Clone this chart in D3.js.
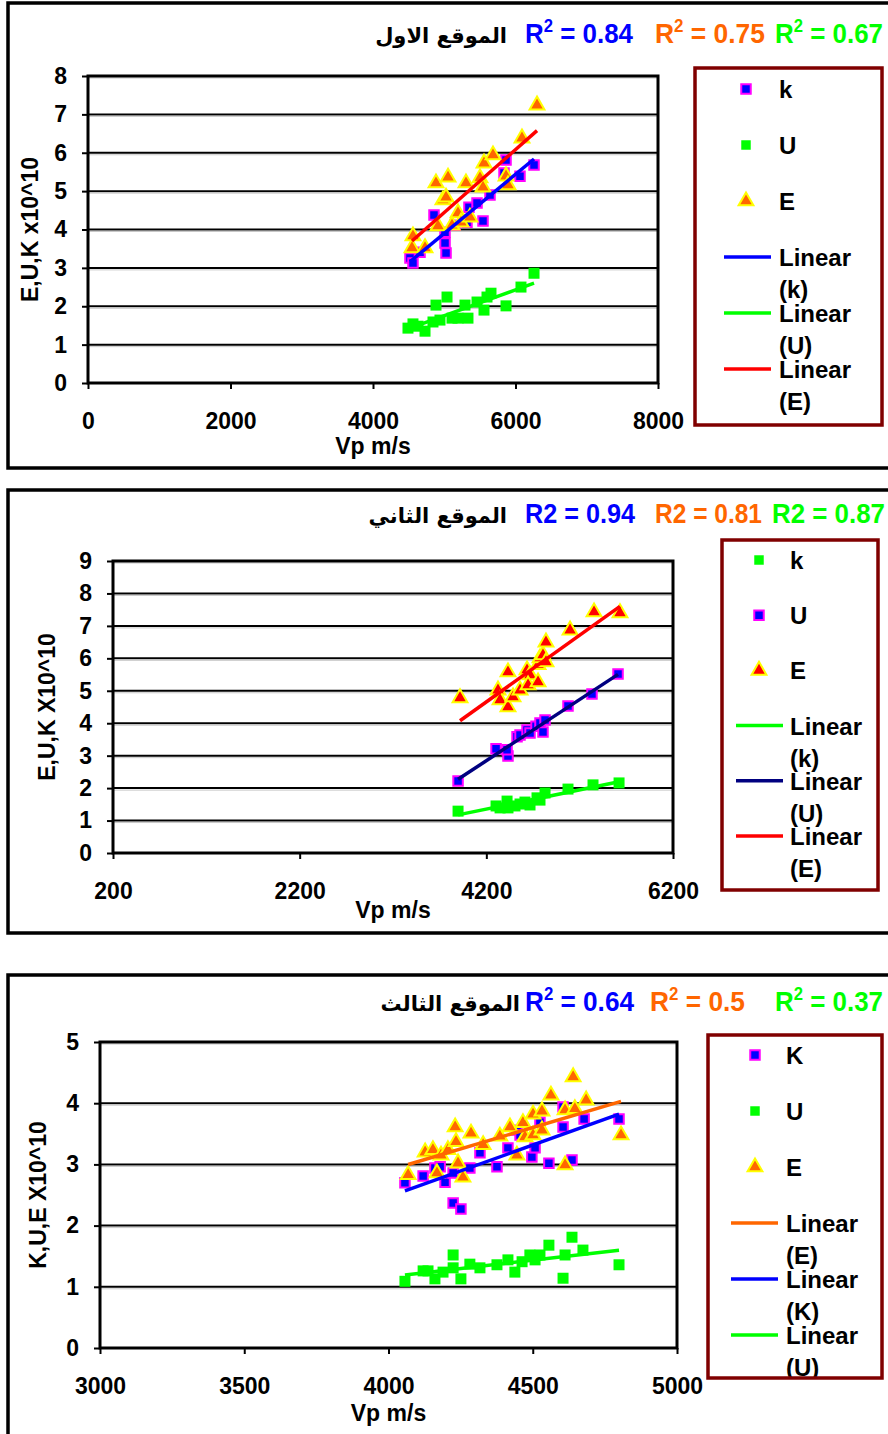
<!DOCTYPE html>
<html>
<head>
<meta charset="utf-8">
<script src="https://cdnjs.cloudflare.com/ajax/libs/d3/7.8.5/d3.min.js"></script>
<style>
  body { margin: 0; background: #fff; }
  text { font-family: "Liberation Sans", Arial, sans-serif; font-weight: bold; }
</style>
</head>
<body>
<script>

// DATI - PANNELLO 1 (الموقع الاول)
//
var s1KVp = [4519, 4561, 4660, 4856, 5011, 5011, 5025, 5151, 5319, 5347, 5460, 5544, 5642, 5839, 5867, 6063, 6260];
var s1K   = [3.26, 3.13, 3.41, 4.38, 3.93, 3.65, 3.39, 4.11, 4.19, 4.58, 4.69, 4.22, 4.90, 5.47, 5.81, 5.39, 5.68];
var s1UVp = [4491, 4561, 4632, 4730, 4842, 4884, 4940, 5039, 5109, 5193, 5291, 5333, 5460, 5558, 5600, 5656, 5867, 6077, 6260];
var s1U   = [1.43, 1.54, 1.48, 1.35, 1.59, 2.03, 1.64, 2.24, 1.69, 1.69, 2.03, 1.69, 2.11, 1.90, 2.24, 2.34, 2.01, 2.50, 2.86];
var s1EVp = [4547, 4561, 4730, 4884, 4912, 4982, 5025, 5053, 5109, 5193, 5235, 5305, 5361, 5502, 5544, 5558, 5684, 5867, 5895, 6091, 6302];
var s1E   = [3.52, 3.83, 3.52, 5.21, 4.09, 4.77, 4.84, 5.36, 4.11, 4.43, 4.19, 5.21, 4.32, 5.34, 5.10, 5.73, 5.94, 5.39, 5.16, 6.38, 7.24];
var s1XTicks = [0, 2000, 4000, 6000, 8000];
var s1YTicks = [0, 1, 2, 3, 4, 5, 6, 7, 8];
var s1R2 = ["0.84", "0.75", "0.67"];

// DATI - PANNELLO 2 (الموقع الثاني)
//
var s2KVp = [3897, 4304, 4347, 4422, 4432, 4507, 4561, 4614, 4668, 4743, 4775, 4829, 5075, 5343, 5622];
var s2K   = [1.29, 1.45, 1.39, 1.60, 1.39, 1.45, 1.51, 1.57, 1.48, 1.70, 1.63, 1.85, 1.97, 2.10, 2.16];
var s2UVp = [3897, 4304, 4432, 4422, 4529, 4561, 4636, 4668, 4732, 4775, 4807, 4829, 5075, 5332, 5611];
var s2U   = [2.22, 3.21, 2.99, 3.18, 3.58, 3.64, 3.79, 3.70, 3.91, 4.01, 3.73, 4.10, 4.53, 4.90, 5.52];
var s2EVp = [3918, 4325, 4347, 4432, 4432, 4486, 4561, 4636, 4668, 4647, 4754, 4754, 4775, 4807, 4839, 4839, 5097, 5354, 5632];
var s2E   = [4.78, 5.02, 4.72, 5.58, 4.50, 4.81, 5.02, 5.64, 5.49, 5.18, 5.27, 5.80, 6.01, 6.10, 5.89, 6.50, 6.87, 7.43, 7.40];
var s2XTicks = [200, 2200, 4200, 6200];
var s2YTicks = [0, 1, 2, 3, 4, 5, 6, 7, 8, 9];
var s2R2 = ["0.94", "0.81", "0.87"];

// DATI - PANNELLO 3 (الموقع الثالث)
//
var s3KVp = [4057, 4120, 4161, 4179, 4196, 4224, 4224, 4251, 4282, 4317, 4376, 4414, 4445, 4456, 4497, 4508, 4525, 4556, 4605, 4605, 4636, 4678, 4799];
var s3K   = [2.70, 2.81, 2.94, 2.96, 2.71, 2.86, 2.37, 2.27, 2.94, 3.19, 2.96, 3.27, 3.56, 3.48, 3.12, 3.27, 3.69, 3.02, 3.94, 3.61, 3.07, 3.74, 3.74];
var s3UVp = [4057, 4120, 4137, 4161, 4189, 4224, 4224, 4251, 4282, 4317, 4376, 4414, 4438, 4463, 4490, 4508, 4525, 4556, 4605, 4612, 4636, 4674, 4799];
var s3U   = [1.09, 1.26, 1.26, 1.13, 1.24, 1.52, 1.31, 1.13, 1.37, 1.31, 1.36, 1.44, 1.24, 1.41, 1.52, 1.44, 1.52, 1.68, 1.14, 1.52, 1.81, 1.60, 1.36];
var s3EVp = [4068, 4127, 4154, 4168, 4182, 4206, 4231, 4234, 4241, 4258, 4286, 4328, 4386, 4421, 4445, 4466, 4473, 4501, 4501, 4532, 4532, 4563, 4612, 4612, 4640, 4646, 4685, 4806];
var s3E   = [2.83, 3.20, 3.24, 2.86, 3.15, 3.24, 3.61, 3.37, 3.02, 2.79, 3.51, 3.32, 3.46, 3.61, 3.15, 3.68, 3.45, 3.82, 3.48, 3.87, 3.56, 4.13, 3.89, 2.99, 4.43, 3.91, 4.05, 3.48];
var s3XTicks = [3000, 3500, 4000, 4500, 5000];
var s3YTicks = [0, 1, 2, 3, 4, 5];
var s3R2 = ["0.64", "0.5", "0.37"];

// COLORI
//
var BLUE = "#0000ff", MAGENTA = "#ff00ff", GREEN = "#00ff00", ORANGE = "#ff6600",
    YELLOW = "#ffff00", RED = "#ff0000", NAVY = "#000080", DARKRED = "#800000";

var svg = d3.select("body").append("svg")
  .attr("width", 888)
  .attr("height", 1434);

// RETTA DI REGRESSIONE (minimi quadrati)
//
function linearFit(xs, ys) {
  var mx = d3.mean(xs), my = d3.mean(ys), sxy = 0, sxx = 0;
  for (var i = 0; i < xs.length; i++) {
    sxy += (xs[i] - mx) * (ys[i] - my);
    sxx += (xs[i] - mx) * (xs[i] - mx);
  }
  var b = sxy / sxx, a = my - b * mx;
  var x0 = d3.min(xs), x1 = d3.max(xs);
  return [[x0, a + b * x0], [x1, a + b * x1]];
}

function markerPath(shape) {
  if (shape == "triangle") return d3.symbol().type(d3.symbolTriangle).size(95)();
  return d3.symbol().type(d3.symbolSquare).size(shape == "bigsquare" ? 121 : 90)();
}

function drawPanel(p) {

  var g = svg.append("g");

  // cornice esterna
  g.append("rect")
    .attr("x", 8).attr("y", p.frameTop)
    .attr("width", 900).attr("height", p.frameH)
    .attr("fill", "none").attr("stroke", "#000").attr("stroke-width", 3.5);

  // intestazione
  g.append("text")
    .attr("x", p.titleX).attr("y", p.headY)
    .attr("text-anchor", "end")
    .style("font-family", "'DejaVu Sans', sans-serif")
    .style("font-size", "21px")
    .text(p.title);

  var r2Colors = [BLUE, ORANGE, GREEN];
  p.r2.forEach(function(v, i) {
    var t = g.append("text")
      .attr("x", p.r2X[i]).attr("y", p.headY)
      .attr("fill", r2Colors[i])
      .style("font-size", "28px")
      .attr("textLength", p.r2W[i])
      .attr("lengthAdjust", "spacingAndGlyphs");
    t.append("tspan").text("R");
    if (p.sup) {
      t.append("tspan").attr("dy", -11).style("font-size", "18px").text("2");
      t.append("tspan").attr("dy", 11).text(" = " + v);
    } else {
      t.append("tspan").text("2 = " + v);
    }
  });

  var x = d3.scaleLinear().domain(p.xDomain).range([p.left, p.right]);
  var y = d3.scaleLinear().domain(p.yDomain).range([p.bottom, p.top]);

  // griglia
  g.selectAll(".grid").data(p.yTicks.slice(1)).enter().append("line")
    .attr("x1", p.left).attr("x2", p.right)
    .attr("y1", function(d) { return y(d); })
    .attr("y2", function(d) { return y(d); })
    .attr("stroke", "#000").attr("stroke-width", 2);
  g.selectAll(".gridShadow").data(p.yTicks.slice(1)).enter().append("line")
    .attr("x1", p.left).attr("x2", p.right)
    .attr("y1", function(d) { return y(d) + 2; })
    .attr("y2", function(d) { return y(d) + 2; })
    .attr("stroke", "#c8c8c8").attr("stroke-width", 1);

  // assi
  var xAxis = g.append("g")
    .attr("transform", "translate(0," + p.bottom + ")")
    .call(d3.axisBottom(x).tickValues(p.xTicks).tickSize(6).tickPadding(24).tickFormat(d3.format("d")));
  var yAxis = g.append("g")
    .attr("transform", "translate(" + p.left + ",0)")
    .call(d3.axisLeft(y).tickValues(p.yTicks).tickSize(6).tickPadding(15).tickFormat(d3.format("d")));
  [xAxis, yAxis].forEach(function(a) {
    a.select(".domain").remove();
    a.selectAll("line").attr("stroke", "#000").attr("stroke-width", 2);
    a.selectAll("text")
      .style("font-family", "'Liberation Sans', Arial, sans-serif")
      .style("font-weight", "bold")
      .style("font-size", "23px")
      .attr("fill", "#000");
  });

  g.append("rect")
    .attr("x", p.left).attr("y", p.top)
    .attr("width", p.right - p.left).attr("height", p.bottom - p.top)
    .attr("fill", "none").attr("stroke", "#000").attr("stroke-width", 3);

  // titoli assi
  g.append("text")
    .attr("x", (p.left + p.right) / 2).attr("y", p.xTitleY)
    .attr("text-anchor", "middle")
    .style("font-size", "23px")
    .text("Vp m/s");
  g.append("text")
    .attr("transform", "translate(" + p.yTitleX + "," + (p.top + p.bottom) / 2 + ") rotate(-90)")
    .attr("text-anchor", "middle")
    .style("font-size", "23px")
    .text(p.yTitle);

  // serie
  p.series.forEach(function(s) {
    var pts = s.vp.map(function(v, i) { return [v, s.val[i]]; });
    g.selectAll(null).data(pts).enter().append("path")
      .attr("d", markerPath(s.shape))
      .attr("transform", function(d) { return "translate(" + x(d[0]) + "," + y(d[1]) + ")"; })
      .attr("fill", s.fill)
      .attr("stroke", s.stroke || "none")
      .attr("stroke-width", 2);
  });

  // linee di tendenza
  var line = d3.line().x(function(d) { return x(d[0]); }).y(function(d) { return y(d[1]); });
  p.trends.forEach(function(t) {
    var s = p.series[t.of];
    g.append("path")
      .attr("d", line(linearFit(s.vp, s.val)))
      .attr("fill", "none")
      .attr("stroke", t.color)
      .attr("stroke-width", 3.5);
  });

  // legenda
  var lg = p.legend;
  var clipId = "clip" + p.frameTop;
  svg.append("clipPath").attr("id", clipId).append("rect")
    .attr("x", lg.x).attr("y", lg.y).attr("width", lg.w).attr("height", lg.h);
  var lgG = g.append("g").attr("clip-path", "url(#" + clipId + ")");
  lgG.append("rect")
    .attr("x", lg.x).attr("y", lg.y).attr("width", lg.w).attr("height", lg.h)
    .attr("fill", "#fff");
  p.series.forEach(function(s, i) {
    var cy = lg.firstY + i * lg.step;
    lgG.append("path")
      .attr("d", markerPath(s.shape == "bigsquare" ? "square" : s.shape))
      .attr("transform", "translate(" + lg.markX + "," + cy + ")")
      .attr("fill", s.fill).attr("stroke", s.stroke || "none").attr("stroke-width", 2);
    lgG.append("text")
      .attr("x", lg.textX).attr("y", cy + 9)
      .style("font-size", "24px")
      .text(s.name);
  });
  p.trends.forEach(function(t, i) {
    var cy = lg.firstY + (3 + i) * lg.step;
    lgG.append("line")
      .attr("x1", lg.lineX0).attr("x2", lg.lineX1)
      .attr("y1", cy).attr("y2", cy)
      .attr("stroke", t.color).attr("stroke-width", 3.5);
    lgG.append("text")
      .attr("x", lg.textX).attr("y", cy + 9)
      .style("font-size", "24px")
      .text("Linear");
    lgG.append("text")
      .attr("x", lg.textX).attr("y", cy + 41)
      .style("font-size", "24px")
      .text("(" + t.label + ")");
  });
  g.append("rect")
    .attr("x", lg.x).attr("y", lg.y).attr("width", lg.w).attr("height", lg.h)
    .attr("fill", "none").attr("stroke", DARKRED).attr("stroke-width", 3.5);
}

// PANNELLO 1
//
drawPanel({
  frameTop: 3, frameH: 465, headY: 43,
  title: "الموقع الاول", titleX: 507,
  r2: s1R2, sup: true, r2X: [525, 655, 775], r2W: [108, 110, 108],
  xDomain: [0, 8000], yDomain: [0, 8], xTicks: s1XTicks, yTicks: s1YTicks,
  left: 88, right: 658, top: 76, bottom: 383,
  xTitleY: 454, yTitleX: 38, yTitle: "E,U,K x10^10",
  series: [
    { name: "k", vp: s1KVp, val: s1K, shape: "square", fill: BLUE, stroke: MAGENTA },
    { name: "U", vp: s1UVp, val: s1U, shape: "bigsquare", fill: GREEN },
    { name: "E", vp: s1EVp, val: s1E, shape: "triangle", fill: ORANGE, stroke: YELLOW }
  ],
  trends: [
    { of: 0, label: "k", color: BLUE },
    { of: 1, label: "U", color: GREEN },
    { of: 2, label: "E", color: RED }
  ],
  legend: { x: 695, y: 68, w: 187, h: 357, firstY: 89, step: 56, markX: 746, textX: 779, lineX0: 724, lineX1: 771 }
});

// PANNELLO 2
//
drawPanel({
  frameTop: 490, frameH: 443, headY: 523,
  title: "الموقع الثاني", titleX: 507,
  r2: s2R2, sup: false, r2X: [525, 655, 772], r2W: [110, 107, 113],
  xDomain: [200, 6200], yDomain: [0, 9], xTicks: s2XTicks, yTicks: s2YTicks,
  left: 113, right: 673, top: 561, bottom: 853,
  xTitleY: 918, yTitleX: 55, yTitle: "E,U,K X10^10",
  series: [
    { name: "k", vp: s2KVp, val: s2K, shape: "bigsquare", fill: GREEN },
    { name: "U", vp: s2UVp, val: s2U, shape: "square", fill: BLUE, stroke: MAGENTA },
    { name: "E", vp: s2EVp, val: s2E, shape: "triangle", fill: RED, stroke: YELLOW }
  ],
  trends: [
    { of: 0, label: "k", color: GREEN },
    { of: 1, label: "U", color: NAVY },
    { of: 2, label: "E", color: RED }
  ],
  legend: { x: 722, y: 540, w: 156, h: 350, firstY: 560, step: 55.2, markX: 759, textX: 790, lineX0: 736, lineX1: 783 }
});

// PANNELLO 3
//
drawPanel({
  frameTop: 975, frameH: 500, headY: 1011,
  title: "الموقع الثالث", titleX: 520,
  r2: s3R2, sup: true, r2X: [525, 650, 775], r2W: [109, 95, 108],
  xDomain: [3000, 5000], yDomain: [0, 5], xTicks: s3XTicks, yTicks: s3YTicks,
  left: 100, right: 677, top: 1042, bottom: 1348,
  xTitleY: 1421, yTitleX: 46, yTitle: "K,U,E X10^10",
  series: [
    { name: "K", vp: s3KVp, val: s3K, shape: "square", fill: BLUE, stroke: MAGENTA },
    { name: "U", vp: s3UVp, val: s3U, shape: "bigsquare", fill: GREEN },
    { name: "E", vp: s3EVp, val: s3E, shape: "triangle", fill: ORANGE, stroke: YELLOW }
  ],
  trends: [
    { of: 2, label: "E", color: ORANGE },
    { of: 0, label: "K", color: BLUE },
    { of: 1, label: "U", color: GREEN }
  ],
  legend: { x: 708, y: 1035, w: 174, h: 343, firstY: 1055, step: 56, markX: 755, textX: 786, lineX0: 731, lineX1: 778 }
});

</script>
</body>
</html>
